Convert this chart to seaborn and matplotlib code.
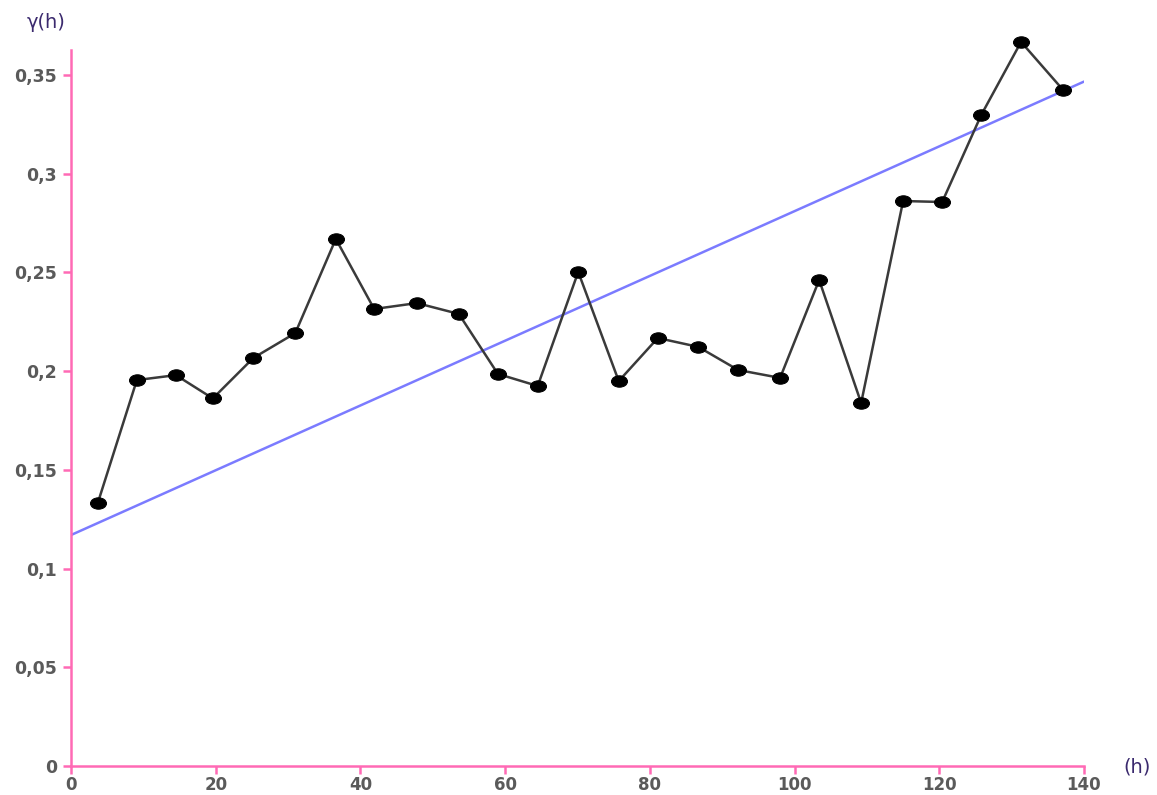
import numpy as np
import pandas as pd
import matplotlib
matplotlib.use("Agg")
import matplotlib.pyplot as plt
from matplotlib.path import Path
from matplotlib.ticker import FuncFormatter
import seaborn as sns

# Experimental semivariogram: lag distance h and semivariance gamma(h)
lag_h = [3.7, 9.1, 14.5, 19.6, 25.2, 31.0, 36.6, 41.9, 47.8, 53.6, 59.0, 64.5, 70.1,
         75.7, 81.1, 86.7, 92.2, 98.0, 103.4, 109.2, 115.0, 120.4, 125.8, 131.3, 137.1]
gamma_h = [0.1332, 0.1955, 0.1980, 0.1862, 0.2067, 0.2193, 0.2670, 0.2315, 0.2345,
           0.2290, 0.1986, 0.1925, 0.2503, 0.1950, 0.2168, 0.2123, 0.2006, 0.1966,
           0.2462, 0.1839, 0.2862, 0.2857, 0.3298, 0.3668, 0.3425]

# Fitted linear model gamma(h) = c0 + b*h, evaluated at the range ends
trend_h = [0, 140]
trend_gamma = [0.117, 0.3467]

x_ticks = [0, 20, 40, 60, 80, 100, 120, 140]
y_ticks = [0, 0.05, 0.1, 0.15, 0.2, 0.25, 0.3, 0.35]

pink = "#ff6ab5"
tick_grey = "#5a5a5a"

sns.set_theme(style="white")
plt.rcParams["font.family"] = ["DejaVu Sans"]

fig = plt.figure(figsize=(11.57, 7.95), dpi=100)
ax = fig.add_axes([71 / 1157, 29 / 795, 1013 / 1157, 716 / 795])

df = pd.DataFrame({"h": lag_h, "gamma": gamma_h})
trend = pd.DataFrame({"h": trend_h, "gamma": trend_gamma})

# elliptical marker (wider than tall)
ellipse = Path.unit_circle().transformed(matplotlib.transforms.Affine2D().scale(1.4, 1.0))

sns.lineplot(data=trend, x="h", y="gamma", ax=ax, color="#7b7bff", linewidth=1.8,
             zorder=2)
sns.lineplot(data=df, x="h", y="gamma", ax=ax, color="#3a3a3a", linewidth=1.8,
             marker=ellipse, markersize=11.5, markerfacecolor="black",
             markeredgecolor="black", zorder=3, clip_on=False)

ax.set_xlim(0, 140)
ax.set_ylim(0, 0.3627)
ax.set_xticks(x_ticks)
ax.set_yticks(y_ticks)

fmt = FuncFormatter(lambda v, p: ("%g" % round(v, 3)).replace(".", ","))
ax.yaxis.set_major_formatter(fmt)
ax.xaxis.set_major_formatter(FuncFormatter(lambda v, p: "%d" % v))

for side in ("top", "right"):
    ax.spines[side].set_visible(False)
for side in ("left", "bottom"):
    ax.spines[side].set_color(pink)
    ax.spines[side].set_linewidth(1.8)

ax.tick_params(axis="both", which="major", direction="out", length=6, width=1.8,
               color=pink, labelcolor=tick_grey, left=True, bottom=True)
ax.tick_params(axis="x", pad=1.5, labelsize=12)
ax.tick_params(axis="y", pad=4, labelsize=12.5)
for lbl in ax.get_xticklabels() + ax.get_yticklabels():
    lbl.set_fontweight("bold")

ax.set_xlabel("")
ax.set_ylabel("")
ax.grid(False)

fig.text(27 / 1157, 1 - 22 / 795, "γ(h)", fontsize=14, color="#3b2a6e",
         ha="left", va="center")
fig.text(1123 / 1157, 1 - 767 / 795, "(h)", fontsize=14, color="#3b2a6e",
         ha="left", va="center")

fig.savefig("out.png", dpi=100, facecolor="white")
